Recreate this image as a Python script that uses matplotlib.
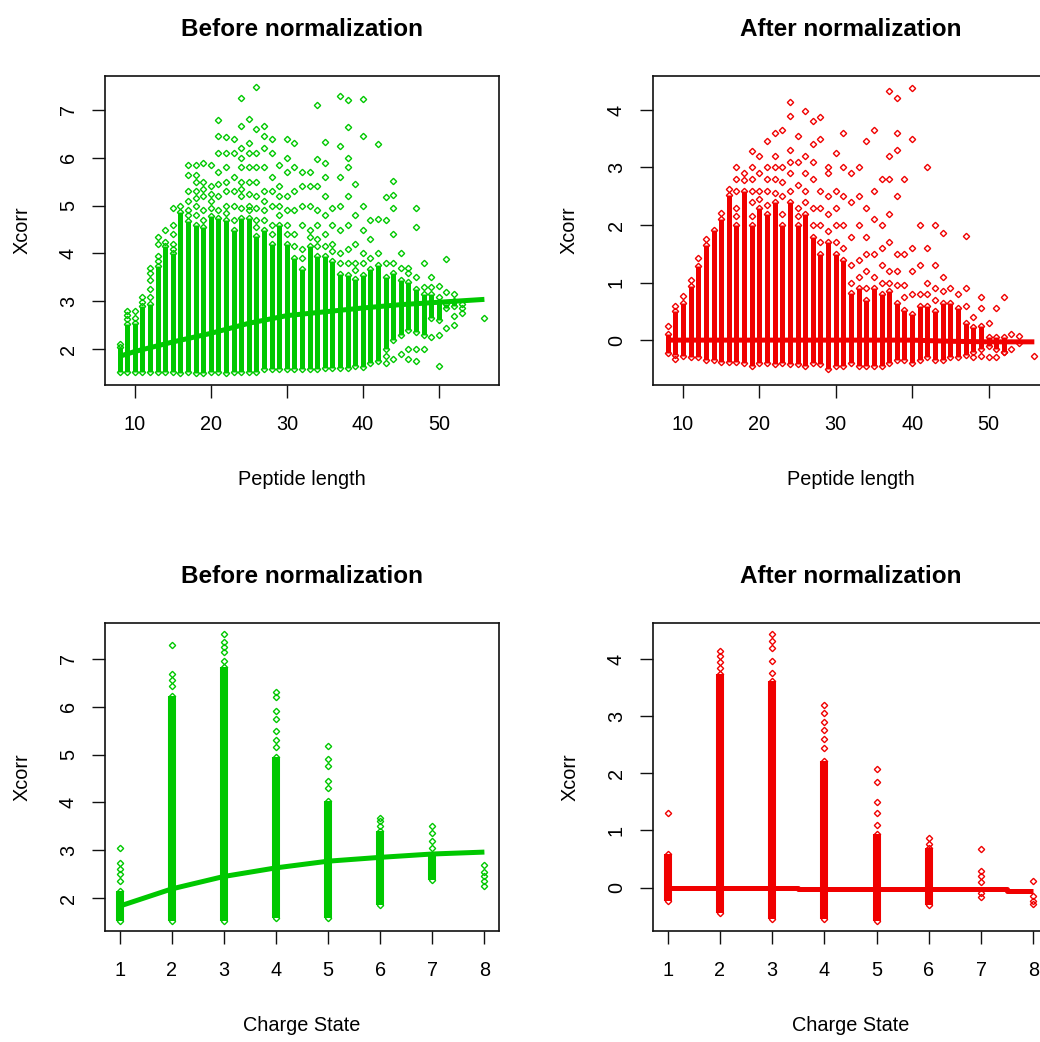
import numpy as np
import matplotlib
matplotlib.use("Agg")
import matplotlib.pyplot as plt

plt.rcParams['font.family'] = ['Liberation Sans', 'DejaVu Sans']

nan = float('nan')

# ---------------- Data: Xcorr vs peptide length ----------------
pep_len = list(range(8, 57))

# dense column range (lower, upper) before normalization
before_len_lo = [1.52, 1.52, 1.52, 1.52, 1.52, 1.52, 1.52, 1.52, 1.50, 1.52,
                 1.50, 1.50, 1.52, 1.52, 1.50, 1.52, 1.52, 1.52, 1.52, 1.58,
                 1.58, 1.58, 1.58, 1.58, 1.58, 1.58, 1.58, 1.60, 1.60, 1.60,
                 1.60, 1.65, 1.62, 1.70, 1.75, 2.00, 2.20, 2.30, 2.40, 2.35,
                 2.30, 2.65, 2.60, 2.85, 2.90, nan, nan, nan, nan]
before_len_hi = [2.05, 2.52, 2.55, 2.90, 2.95, 3.74, 4.15, 4.00, 4.86, 4.68,
                 4.60, 4.55, 4.79, 4.75, 4.70, 4.50, 4.75, 4.75, 4.37, 4.50,
                 4.20, 4.60, 4.20, 3.90, 3.67, 4.16, 3.95, 3.95, 3.85, 3.57,
                 3.55, 3.46, 3.55, 3.67, 3.75, 3.50, 3.60, 3.45, 3.40, 3.26,
                 3.15, 3.15, 2.98, 2.95, 3.00, nan, nan, nan, nan]
# scattered points outside the dense column
before_len_sparse = [
    [2.10], [2.62, 2.72, 2.79], [2.65, 2.79], [2.98, 3.08], [3.10, 3.25, 3.45, 3.60, 3.69],
    [3.85, 3.95, 4.20, 4.35], [4.25, 4.50], [4.10, 4.20, 4.40, 4.60, 4.96], [5.00],
    [4.80, 4.90, 5.10, 5.31, 5.63, 5.84],
    [4.80, 5.00, 5.15, 5.30, 5.50, 5.63, 5.84], [4.70, 4.90, 5.20, 5.35, 5.50, 5.90],
    [4.95, 5.10, 5.25, 5.40, 5.84],
    [4.90, 5.20, 5.45, 5.70, 6.10, 6.45, 6.78], [4.85, 5.00, 5.30, 5.50, 5.80, 6.10, 6.43],
    [4.70, 5.00, 5.30, 5.60, 6.10, 6.40],
    [4.95, 5.20, 5.35, 5.50, 5.80, 6.00, 6.20, 6.67, 7.26],
    [4.90, 5.00, 5.25, 5.50, 5.80, 6.10, 6.30, 6.81],
    [4.55, 4.70, 4.95, 5.20, 5.50, 5.80, 6.10, 6.60, 7.47],
    [4.70, 4.90, 5.10, 5.30, 5.80, 6.20, 6.45, 6.67],
    [4.40, 4.60, 5.00, 5.30, 5.60, 6.10, 6.40], [4.80, 5.00, 5.20, 5.40, 5.85],
    [4.40, 4.60, 4.90, 5.20, 5.70, 6.00, 6.40],
    [4.15, 4.40, 4.90, 5.30, 5.80, 6.30], [3.90, 4.10, 4.60, 5.00, 5.40, 5.70],
    [4.35, 4.50, 5.00, 5.40, 5.70], [4.15, 4.30, 4.60, 4.90, 5.40, 5.97, 7.10],
    [4.15, 4.40, 4.80, 5.20, 5.60, 5.90, 6.32], [4.05, 4.20, 4.60, 4.96],
    [3.80, 4.00, 4.50, 5.00, 5.60, 6.25, 7.29], [3.80, 4.10, 4.60, 5.20, 5.80, 6.00, 6.64, 7.20],
    [3.65, 3.80, 4.20, 4.80, 5.45], [3.80, 4.00, 4.50, 5.00, 6.46, 7.22], [3.90, 4.30, 4.70],
    [4.00, 4.72, 6.29], [1.70, 1.85, 3.80, 4.70, 5.17], [1.80, 3.80, 4.40, 4.94, 5.22, 5.52],
    [1.90, 3.70, 4.00], [1.80, 2.00, 3.60, 3.70], [1.75, 2.00, 3.50, 4.55, 4.96],
    [2.00, 3.30, 3.81], [2.25, 3.30, 3.50], [1.65, 2.30, 3.10, 3.32],
    [2.45, 3.20, 3.88], [2.50, 2.70, 3.15], [2.75, 2.85, 2.95], [], [], [2.66]]

after_len_lo = [-0.22, -0.25, -0.28, -0.30, -0.30, -0.35, -0.35, -0.38, -0.38, -0.38,
                -0.40, -0.45, -0.40, -0.40, -0.42, -0.40, -0.42, -0.42, -0.45, -0.40,
                -0.42, -0.50, -0.45, -0.45, -0.40, -0.45, -0.45, -0.45, -0.45, -0.40,
                -0.35, -0.35, -0.40, -0.35, -0.30, -0.35, -0.35, -0.30, -0.30, -0.25,
                -0.20, -0.15, -0.10, -0.15, -0.20, nan, nan, nan, nan]
after_len_hi = [0.10, 0.50, 0.65, 0.94, 1.29, 1.66, 1.92, 2.10, 2.53, 2.00,
                2.60, 2.00, 2.30, 2.20, 2.40, 2.00, 2.40, 2.00, 2.20, 1.80,
                1.50, 1.70, 1.50, 1.40, 0.82, 0.90, 0.70, 0.90, 0.80, 0.85,
                0.65, 0.53, 0.45, 0.60, 0.60, 0.50, 0.65, 0.65, 0.55, 0.30,
                0.22, 0.25, 0.05, 0.05, 0.05, nan, nan, nan, nan]
after_len_sparse = [
    [0.24], [0.59, -0.32], [0.77], [1.05], [1.43], [1.75], [], [2.21], [2.62],
    [2.15, 2.30, 2.60, 2.80, 3.00], [2.79, 2.91], [2.15, 2.40, 2.60, 2.80, 3.00, 3.29],
    [2.45, 2.60, 2.90, 3.20],
    [2.35, 2.60, 2.80, 3.00, 3.46], [2.55, 2.80, 3.00, 3.20, 3.60], [2.20, 2.50, 2.75, 3.00, 3.66],
    [2.60, 2.90, 3.10, 3.30, 3.90, 4.13],
    [2.15, 2.30, 2.70, 3.10, 3.55], [2.40, 2.60, 2.90, 3.20, 3.98],
    [2.00, 2.30, 2.80, 3.10, 3.40, 3.80],
    [1.70, 2.00, 2.30, 2.60, 3.50, 3.87], [1.90, 2.20, 2.50, 2.90, 3.00],
    [1.70, 2.00, 2.30, 2.60, 3.26], [1.60, 2.00, 2.50, 3.00, 3.60],
    [1.00, 1.30, 1.80, 2.40, 2.90], [1.10, 1.40, 2.00, 2.50, 3.00],
    [0.90, 1.20, 1.50, 1.80, 2.30, 3.46],
    [1.10, 1.50, 2.10, 2.60, 3.66], [1.00, 1.30, 1.60, 2.00, 2.80],
    [1.00, 1.20, 1.70, 2.20, 2.80, 3.20, 4.33],
    [0.95, 1.20, 1.50, 2.50, 3.30, 3.60, 4.21], [0.75, 0.95, 1.50, 2.80],
    [0.80, 1.20, 1.60, 3.50, 4.39],
    [0.80, 1.30, 2.00], [0.80, 1.00, 1.60, 3.00], [0.70, 0.90, 1.30, 2.00], [0.85, 1.10, 1.87],
    [0.90], [0.80],
    [0.60, 0.90, 1.81], [0.40, -0.30], [0.55, 0.75, -0.28], [0.30, -0.30], [0.55, -0.30],
    [0.75, -0.20], [0.10, -0.15], [0.07, -0.05], [], [-0.28]]

# lowess trend lines
trend_len_x = [8, 10, 15, 20, 25, 30, 35, 40, 45, 50, 56]
trend_len_before = [1.85, 1.95, 2.15, 2.33, 2.54, 2.70, 2.78, 2.86, 2.93, 2.98, 3.04]
trend_len_after = [0.0, 0.0, 0.0, 0.0, 0.0, 0.0, 0.0, 0.0, -0.02, -0.03, -0.03]

# ---------------- Data: Xcorr vs charge state ----------------
charge = [1, 2, 3, 4, 5, 6, 7, 8]
before_chg_lo = [1.52, 1.52, 1.52, 1.58, 1.58, 1.86, 2.38, nan]
before_chg_hi = [2.14, 6.23, 6.82, 4.94, 4.03, 3.40, 2.90, nan]
before_chg_sparse = [[2.35, 2.50, 2.60, 2.73, 3.05],
                     [6.44, 6.55, 6.68, 7.28],
                     [6.95, 7.14, 7.25, 7.35, 7.52],
                     [5.15, 5.30, 5.50, 5.75, 5.90, 6.20, 6.30],
                     [4.30, 4.45, 4.76, 4.90, 5.18],
                     [3.50, 3.60, 3.68],
                     [3.05, 3.20, 3.35, 3.50],
                     [2.25, 2.35, 2.45, 2.55, 2.70]]
after_chg_lo = [-0.23, -0.44, -0.55, -0.55, -0.58, -0.30, nan, nan]
after_chg_hi = [0.58, 3.73, 3.61, 2.21, 0.93, 0.70, nan, nan]
after_chg_sparse = [[1.31],
                    [3.85, 3.95, 4.05, 4.14],
                    [3.75, 3.96, 4.20, 4.32, 4.43],
                    [2.45, 2.60, 2.75, 2.90, 3.05, 3.20],
                    [1.10, 1.30, 1.50, 1.84, 2.07],
                    [0.76, 0.87],
                    [-0.17, -0.10, 0.10, 0.20, 0.29, 0.67],
                    [-0.28, -0.23, -0.15, 0.12]]
trend_chg_before = [1.83, 2.19, 2.45, 2.63, 2.77, 2.85, 2.92, 2.96]
trend_chg_after_x = [1, 3.5, 3.5, 7.5, 7.5, 8]
trend_chg_after = [0.0, 0.0, -0.03, -0.03, -0.06, -0.06]

GREEN = '#00C800'
RED = '#F00000'

W, H = 1040, 1042
fig = plt.figure(figsize=(W / 100, H / 100), dpi=100)


def add_ax(left, top, right, bottom):
    return fig.add_axes([left / W, 1 - bottom / H, (right - left) / W, (bottom - top) / H])


axes = [add_ax(105, 76, 499, 385), add_ax(653, 76, 1049, 385),
        add_ax(105, 623, 499, 931), add_ax(653, 623, 1048, 931)]


def draw(ax, xs, lo, hi, sparse, color, colw, tx, ty):
    for x, a, b in zip(xs, lo, hi):
        if not (np.isnan(a) or np.isnan(b)):
            ax.vlines(x, a, b, color=color, lw=colw, zorder=2)
    px, py = [], []
    for x, ys in zip(xs, sparse):
        for y in ys:
            px.append(x)
            py.append(y)
    ax.plot(px, py, linestyle='none', marker='D', ms=3.2, mfc='none',
            mec=color, mew=1.0, zorder=3)
    for x, a, b in zip(xs, lo, hi):
        if not (np.isnan(a) or np.isnan(b)):
            ax.plot([x, x], [a, b], linestyle='none', marker='D', ms=3.2,
                    mfc='none', mec=color, mew=1.0, zorder=3)
    ax.plot(tx, ty, color=color, lw=3.6, solid_capstyle='butt', zorder=4)


draw(axes[0], pep_len, before_len_lo, before_len_hi, before_len_sparse, GREEN, 3.6,
     trend_len_x, trend_len_before)
draw(axes[1], pep_len, after_len_lo, after_len_hi, after_len_sparse, RED, 3.6,
     trend_len_x, trend_len_after)
draw(axes[2], charge, before_chg_lo, before_chg_hi, before_chg_sparse, GREEN, 5.8,
     charge, trend_chg_before)
draw(axes[3], charge, after_chg_lo, after_chg_hi, after_chg_sparse, RED, 5.8,
     trend_chg_after_x, trend_chg_after)

titles = ['Before normalization', 'After normalization'] * 2
xlabels = ['Peptide length', 'Peptide length', 'Charge State', 'Charge State']
xlims = [(6.08, 57.92), (6.08, 57.92), (0.72, 8.28), (0.72, 8.28)]
ylims = [(1.25, 7.71), (-0.78, 4.59), (1.31, 7.75), (-0.76, 4.63)]
xticks = [[10, 20, 30, 40, 50], [10, 20, 30, 40, 50], charge, charge]
yticks = [[2, 3, 4, 5, 6, 7], [0, 1, 2, 3, 4], [2, 3, 4, 5, 6, 7], [0, 1, 2, 3, 4]]

for i, ax in enumerate(axes):
    ax.set_xlim(*xlims[i])
    ax.set_ylim(*ylims[i])
    ax.set_xticks(xticks[i])
    ax.set_yticks(yticks[i])
    ax.tick_params(direction='out', length=9.5, width=1.0, labelsize=14.3, color='#111111')
    ax.tick_params(axis='x', pad=12)
    ax.tick_params(axis='y', pad=10)
    for lab in ax.get_yticklabels():
        lab.set_rotation(90)
        lab.set_va('center')
    for s in ax.spines.values():
        s.set_linewidth(1.2)
        s.set_color('#111111')
    ax.set_title(titles[i], fontsize=17.5, fontweight='bold', pad=29)
    ax.set_xlabel(xlabels[i], fontsize=14.3)
    ax.xaxis.set_label_coords(0.5, -0.307)
    ax.xaxis.label.set_va('center')
    ax.set_ylabel('Xcorr', fontsize=14.3)
    ax.yaxis.set_label_coords(-0.211, 0.5)
    ax.yaxis.label.set_va('center')

fig.savefig('out.png', dpi=100)
